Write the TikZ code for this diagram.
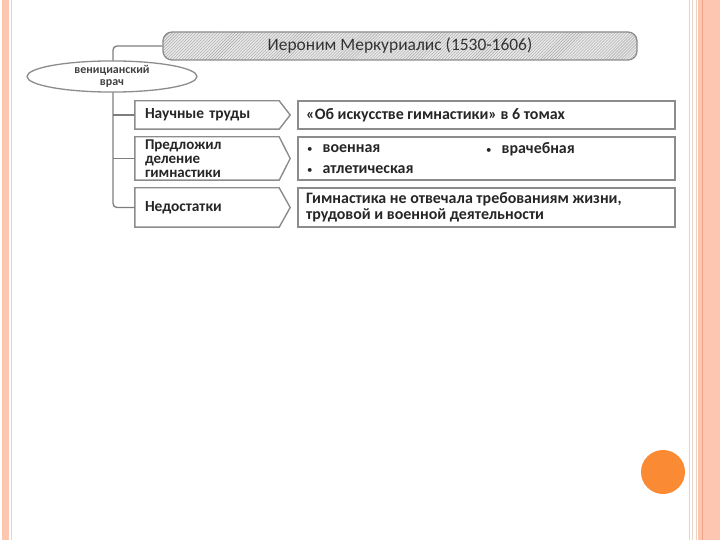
\documentclass[tikz,border=0pt]{standalone}
\usepackage{fontspec}
\setmainfont{Carlito}
\usetikzlibrary{shapes.geometric,patterns,calc}
\definecolor{salmon}{HTML}{FCC6B0}
\definecolor{salmondk}{HTML}{F2A488}
\definecolor{tanline}{HTML}{EED3C2}
\definecolor{boxline}{HTML}{8C8C8C}
\definecolor{txt}{HTML}{262626}
\definecolor{dot}{HTML}{FB8A34}
\newcommand{\bul}{{\fontsize{11}{11}\selectfont\mdseries •}\hspace{10bp}}
\tikzset{
  boxln/.style={draw=boxline, line width=1.4bp},
  conn/.style={draw=boxline!90!black, line width=1.3bp},
  lefttext/.style={font=\fontsize{16}{16}\selectfont\bfseries, text=txt, align=left, anchor=west, inner sep=0pt},
  body/.style={minimum height=#1, text width=124bp, inner xsep=10bp, inner ysep=0pt, align=left, font=\fontsize{15.5}{15.5}\selectfont\bfseries, text=txt},
  rbox/.style={boxln, fill=white, minimum width=377bp, minimum height=#1, inner sep=0pt},
}
\begin{document}
\begin{tikzpicture}[x=1bp,y=-1bp]
\useasboundingbox (0,0) rectangle (720,540);
\fill[white] (0,0) rectangle (720,540);
% frame stripes
\fill[salmon] (2,0) rectangle (8.5,540);
\draw[tanline, line width=0.8bp] (11,0) -- (11,540);
\draw[tanline, line width=1bp] (689.5,0) -- (689.5,540);
\draw[tanline, line width=1bp] (692.5,0) -- (692.5,540);
\draw[tanline, line width=1bp] (696.5,0) -- (696.5,540);
\fill[salmon] (698,0) rectangle (720,540);
\draw[salmondk, line width=1.2bp] (702.5,0) -- (702.5,540);
% orange circle
\fill[dot] (663,472) circle (22);
% title
\node[draw=boxline, line width=1.3bp, rounded corners=9bp, preaction={fill=black!9}, pattern=north east lines, pattern color=black!35,
      minimum width=474bp, minimum height=28bp, inner sep=0pt,
      font=\fontsize{17.5}{17.5}\selectfont, text=black!80] (title) at (400,46) {Иероним Меркуриалис (1530-1606)};
% left bodies
\node[body=28bp] (p1) at (207,115) {Научные труды};
\node[body=43bp, font=\fontsize{15}{14}\selectfont\bfseries] (p2) at (207,158.5) {Предложил\\деление\\гимнастики};
\node[body=39bp] (p3) at (207,207.5) {Недостатки};
\foreach \p in {p1,p2,p3}{
  \draw[boxln] (\p.north west) -- (\p.north east) -- ($(\p.east)+(11,0)$) -- (\p.south east) -- (\p.south west) -- cycle;
}
% trunk
\coordinate (t) at (113,46);
\draw[conn, rounded corners=4bp] (title.west) -- (t) -- (t |- p3.west) -- (p3.west);
\draw[conn] (t |- p1.west) -- (p1.west);
\draw[conn] (t |- p2.west) -- (p2.west);
% ellipse
\node[ellipse, draw=boxline, line width=1.3bp, fill=white, minimum width=170bp, minimum height=27bp, inner sep=0pt,
      font=\fontsize{12}{12}\selectfont\bfseries, text=black!75, align=center] (e) at (112,76.5) {веницианский\\врач};
% right boxes
\node[rbox=28bp] (r1) at (486.5,115) {};
\node[rbox=43bp] (r2) at (486.5,158.5) {};
\node[rbox=39bp] (r3) at (486.5,207.5) {};
\node[lefttext] (r1t) at (306,115) {«Об искусстве гимнастики» в 6 томах};
\node[lefttext] (b1) at (307,149) {\bul военная};
\node[lefttext] (b2) at (486,149) {\bul врачебная};
\node[lefttext] (b3) at (307,170) {\bul атлетическая};
\node[lefttext] (r3t) at (306,207) {Гимнастика не отвечала требованиям жизни,\\трудовой и военной деятельности};
\end{tikzpicture}
\end{document}
